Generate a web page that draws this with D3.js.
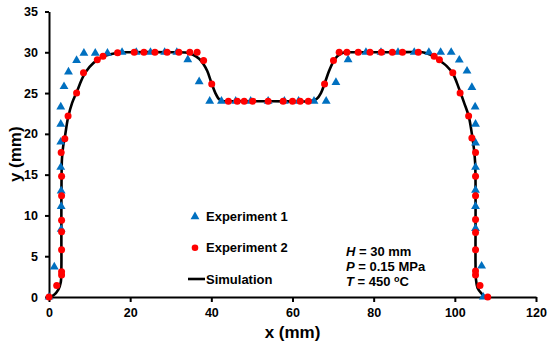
<!DOCTYPE html>
<html>
<head>
<meta charset="utf-8">
<script src="https://cdn.jsdelivr.net/npm/d3@7"></script>
<style>
    body { margin: 0; background: #fff; }
    svg { display: block; font-family: Arial, "Liberation Sans", sans-serif; }
    .axis text { font-size: 12.5px; font-weight: bold; fill: #000; }
    .axis path, .axis line { stroke: #000; stroke-width: 2px; }
</style>
</head>
<body>
<div id="chart"></div>
<script>
// Experiment 1 (blue triangles)
const exp1X = [0, 1.3, 3.0, 3.0, 3.0, 2.9, 2.9, 2.9, 2.9, 3.7, 4.8, 6.8, 8.6, 11.4, 14.4, 18.0, 21.5, 25.0, 28.5, 31.5,
    34.2, 37.0, 39.6, 42.5, 46.0, 49.7, 54.0, 58.0, 61.5, 65.3, 68.3, 70.7, 73.7, 78.1, 81.8, 86.0, 90.0, 93.6, 96.5,
    99.1, 101.1, 103.0, 104.2, 105.0, 105.1, 105.1, 105.1, 105.1, 105.1, 105.1, 106.6, 107.0];
const exp1Y = [0, 3.7, 8.3, 11.1, 13.0, 15.9, 19.0, 21.2, 23.3, 25.8, 27.6, 29.0, 29.9, 29.9, 29.9, 30, 30, 30, 30, 30,
    29.1, 26.4, 24.0, 24.0, 24.0, 24.0, 24.0, 24.0, 24.0, 24.0, 24.0, 26.3, 29.1, 30, 30, 30, 30, 30, 30,
    30, 29.05, 27.7, 25.7, 23.3, 21.2, 18.9, 15.9, 13.1, 11.1, 8.4, 3.8, 0];

// Experiment 2 (red circles)
const exp2X = [0, 1.9, 3.1, 3.1, 3.1, 3.1, 3.1, 3.1, 3.1, 3.0, 3.9, 4.7, 6.8, 8.5, 11.9, 13.3, 16.9, 21.0, 23.4, 26.1,
    29.1, 32.0, 34.7, 36.5, 38.1, 40.1, 44.2, 46.4, 48.1, 50.2, 54.0, 57.7, 60.0, 61.9, 63.9, 67.9, 70.1, 71.5, 73.4,
    76.2, 79.1, 81.9, 84.6, 87.1, 91.0, 94.9, 96.2, 99.5, 101.3, 103.4, 104.2, 105.1, 105.1, 105.1, 105.1, 105.1,
    105.1, 105.1, 105.1, 106.2, 108.1];
const exp2Y = [0, 1.4, 2.7, 3.1, 5.8, 8.0, 9.4, 12.4, 14.8, 17.7, 19.4, 22.2, 25.0, 27.5, 29.1, 29.5, 29.95, 30, 30, 30,
    30, 30, 30, 30, 29.0, 26.1, 24, 24, 24, 24, 24, 24, 24, 24, 24, 26.1, 29.0, 30, 30,
    30, 30, 30, 30, 30, 30, 29.5, 29.1, 27.5, 25.0, 22.2, 19.5, 17.7, 14.8, 12.4, 9.5, 7.9,
    5.8, 3.2, 2.7, 1.4, 0];

// Simulation profile
const simX = [0, 1.2, 2.3, 2.9, 3.05, 3.05, 3.05, 3.1, 3.2, 3.5, 3.9, 4.7, 5.7, 6.8, 8.5, 10, 12, 14, 17, 20,
    30, 34, 35.5, 37, 38, 39, 40, 41, 42, 43, 45, 55, 64, 65, 66, 67, 68, 69, 70, 71, 72, 73, 75,
    85, 92, 93.5, 95, 96.5, 98, 99.5, 101, 102.3, 103.4, 104.2, 104.7, 105.0, 105.1, 105.1, 105.1,
    105.2, 105.6, 106.6, 107.5];
const simY = [0, 0.25, 0.9, 1.8, 3.5, 7, 11, 15, 17, 18.5, 19.6, 22.0, 23.8, 25.1, 27.1, 28.2, 29.1, 29.6, 29.95, 30,
    30, 29.95, 29.7, 29.2, 28.6, 27.7, 26.3, 25.0, 24.2, 24.0, 24, 24, 24, 24.1, 24.3, 25.0, 26.3, 27.7, 28.8, 29.5, 29.85, 30, 30,
    30, 30, 29.8, 29.5, 28.9, 28.3, 27.4, 25.6, 23.8, 22.2, 20, 18.2, 16.5, 14, 8, 4,
    2.2, 1.1, 0.4, 0];

const xTicks = [0, 20, 40, 60, 80, 100, 120];
const yTicks = [0, 5, 10, 15, 20, 25, 30, 35];

const legendLabels = ['Experiment 1', 'Experiment 2', 'Simulation'];
const noteLines = [
    { sym: 'H', rest: ' = 30 mm' },
    { sym: 'P', rest: ' = 0.15 MPa' },
    { sym: 'T', rest: ' = 450 ', sup: 'o', tail: 'C' }
];

const width = 550;
const height = 345;
const margin = { top: 11.5, right: 14, bottom: 48, left: 49 };
const plotW = width - margin.left - margin.right;
const plotH = height - margin.top - margin.bottom;

const svg = d3.select('#chart')
    .append('svg')
    .attr('width', width)
    .attr('height', height);

const g = svg.append('g')
    .attr('transform', `translate(${margin.left},${margin.top})`);

const x = d3.scaleLinear().domain([0, 120]).range([0, plotW]);
const y = d3.scaleLinear().domain([0, 35]).range([plotH, 0]);

// Axes
g.append('g')
    .attr('class', 'axis')
    .attr('transform', `translate(0,${plotH})`)
    .call(d3.axisBottom(x).tickValues(xTicks).tickSize(5).tickSizeOuter(0).tickPadding(6));

g.append('g')
    .attr('class', 'axis')
    .call(d3.axisLeft(y).tickValues(yTicks).tickSize(4).tickSizeOuter(0).tickPadding(7));

// Axis labels
g.append('text')
    .attr('x', plotW / 2)
    .attr('y', plotH + 41)
    .attr('text-anchor', 'middle')
    .attr('font-size', '17px')
    .attr('font-weight', 'bold')
    .text('x (mm)');

g.append('text')
    .attr('transform', 'rotate(-90)')
    .attr('x', -plotH / 2)
    .attr('y', -28)
    .attr('text-anchor', 'middle')
    .attr('font-size', '17px')
    .attr('font-weight', 'bold')
    .text('y (mm)');

// Simulation line
const simData = simX.map((v, i) => ({ x: v, y: simY[i] }));
const line = d3.line()
    .x(d => x(d.x))
    .y(d => y(d.y))
    .curve(d3.curveCatmullRom.alpha(0.5));

g.append('path')
    .datum(simData)
    .attr('fill', 'none')
    .attr('stroke', '#000')
    .attr('stroke-width', 2.6)
    .attr('d', line);

// Experiment 1 triangles
const tri = d3.symbol().type(d3.symbolTriangle).size(34);
const exp1 = exp1X.map((v, i) => ({ x: v, y: exp1Y[i] }));
g.selectAll('.exp1')
    .data(exp1)
    .join('path')
    .attr('class', 'exp1')
    .attr('transform', d => `translate(${x(d.x)},${y(d.y)})`)
    .attr('d', tri)
    .attr('fill', '#0070C0');

// Experiment 2 circles
const exp2 = exp2X.map((v, i) => ({ x: v, y: exp2Y[i] }));
g.selectAll('.exp2')
    .data(exp2)
    .join('circle')
    .attr('class', 'exp2')
    .attr('cx', d => x(d.x))
    .attr('cy', d => y(d.y))
    .attr('r', 3.5)
    .attr('fill', '#FF0000');

// Legend
const legend = svg.append('g').attr('font-size', '13px').attr('font-weight', 'bold');
const legY = [216.7, 247.7, 279];

legend.append('path')
    .attr('transform', `translate(195,${legY[0]})`)
    .attr('d', tri)
    .attr('fill', '#0070C0');
legend.append('circle')
    .attr('cx', 195).attr('cy', legY[1]).attr('r', 3.3)
    .attr('fill', '#FF0000');
legend.append('line')
    .attr('x1', 188).attr('x2', 205)
    .attr('y1', legY[2]).attr('y2', legY[2])
    .attr('stroke', '#000').attr('stroke-width', 2.6);

legendLabels.forEach((label, i) => {
    legend.append('text')
        .attr('x', 206)
        .attr('y', legY[i])
        .attr('dy', '0.35em')
        .text(label);
});

// Process conditions
const noteY = [251.7, 266.4, 281];
const notes = svg.append('g').attr('font-size', '13px').attr('font-weight', 'bold');
noteLines.forEach((n, i) => {
    const t = notes.append('text')
        .attr('x', 346)
        .attr('y', noteY[i])
        .attr('dy', '0.35em');
    t.append('tspan').attr('font-style', 'italic').text(n.sym);
    t.append('tspan').text(n.rest);
    if (n.sup) {
        t.append('tspan').attr('font-size', '9px').attr('dy', '-4px').text(n.sup);
        t.append('tspan').attr('dy', '4px').text(n.tail);
    }
});
</script>
</body>
</html>
